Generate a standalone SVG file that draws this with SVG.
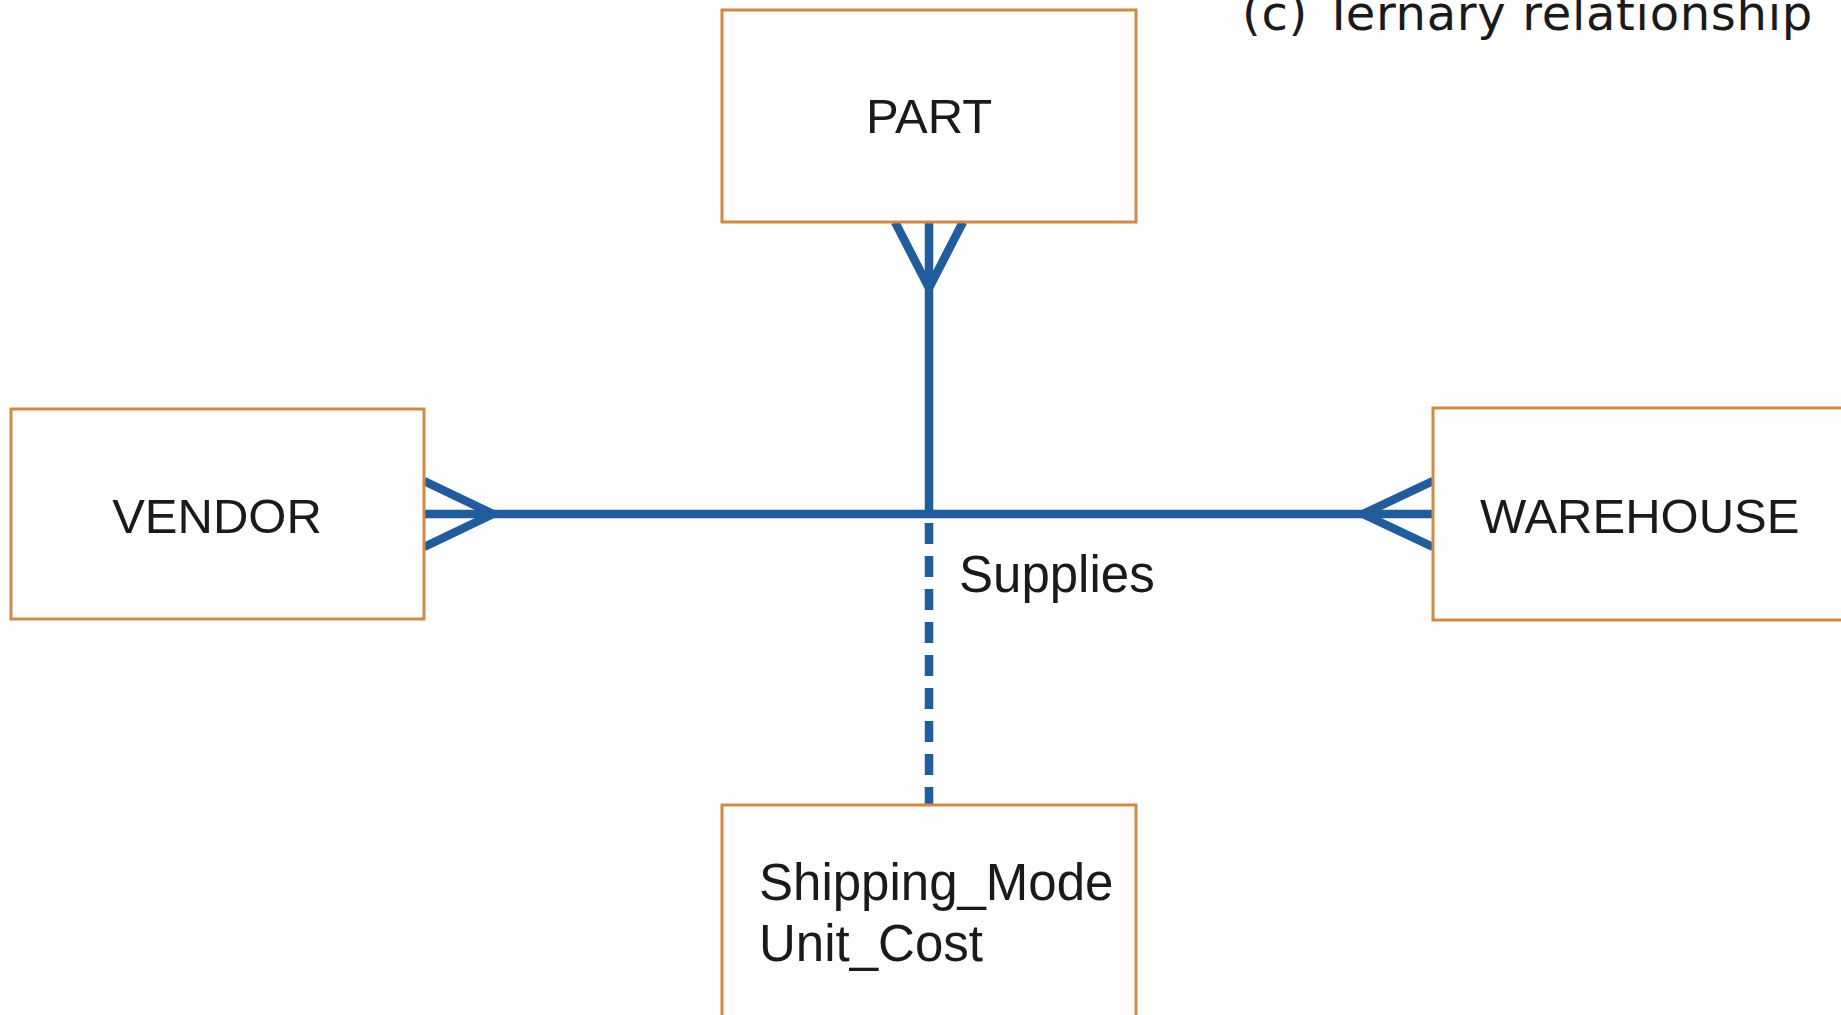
<svg xmlns="http://www.w3.org/2000/svg" width="1841" height="1015" viewBox="0 0 1841 1015">
<style>
.box{fill:#FEFDFB;stroke:#D08A45;stroke-width:3}
.ent{font-family:"Liberation Sans",Arial,sans-serif;font-size:49px;fill:#1a1a1a}
.lbl{font-family:"Liberation Sans",Arial,sans-serif;font-size:51px;fill:#1a1a1a}
.ln{stroke:#215C9C;stroke-width:8.5;fill:none}
</style>
<rect width="1841" height="1015" fill="#FEFEFE"/>
<text x="1242" y="30" font-family="'DejaVu Sans',sans-serif" font-size="48" letter-spacing="0.7" fill="#1a1a1a">(c) Ternary relationship</text>
<g id="connectors">
<line class="ln" x1="424" y1="514" x2="1433" y2="514"/>
<line class="ln" x1="929" y1="222" x2="929" y2="514"/>
<polyline class="ln" points="895,222 929,288 963,222"/>
<polyline class="ln" points="424,481 493,514 424,547"/>
<polyline class="ln" points="1433,481 1363,514 1433,547"/>
<line class="ln" x1="929" y1="523" x2="929" y2="805" stroke-dasharray="21 12"/>
<text class="lbl" x="959" y="592" font-size="50">Supplies</text>
</g>
<g id="part">
<rect class="box" x="722" y="10" width="414" height="212"/>
<text class="ent" x="929" y="133" text-anchor="middle">PART</text>
</g>
<g id="vendor">
<rect class="box" x="11" y="409" width="413" height="210"/>
<text class="ent" x="217" y="533" text-anchor="middle">VENDOR</text>
</g>
<g id="warehouse">
<rect class="box" x="1433" y="408" width="430" height="212"/>
<text class="ent" x="1480" y="533">WAREHOUSE</text>
</g>
<g id="attributes">
<rect class="box" x="722" y="805" width="414" height="240"/>
<text class="lbl" x="759" y="900">Shipping_Mode</text>
<text class="lbl" x="759" y="961">Unit_Cost</text>
</g>
</svg>
